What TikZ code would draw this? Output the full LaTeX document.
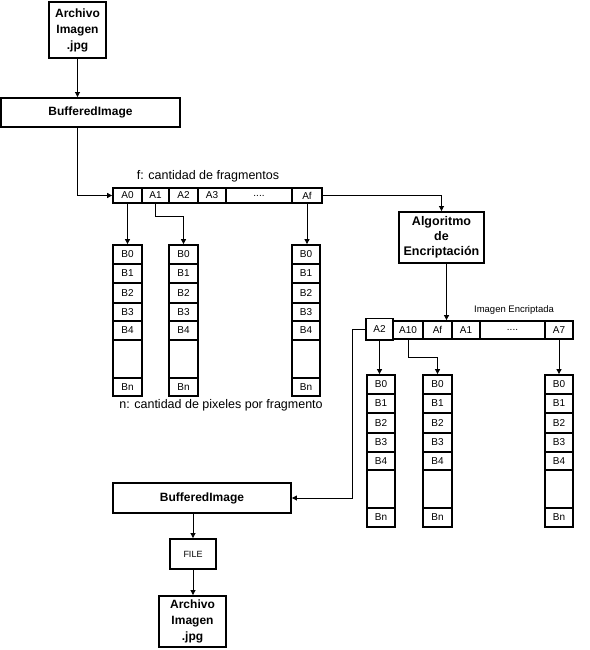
\documentclass[tikz,border=0pt]{standalone}
\usepackage{fontspec}
\setmainfont{Liberation Sans}
\usetikzlibrary{arrows.meta}
\newcommand{\cellbox}[6]{\node[cell, minimum width={(#3)-(#2)}, minimum height={(#5)-(#4)}] (#1) at ({(#2+#3)/2},{(#4+#5)/2}) {#6};}
\newcommand{\bigbox}[6]{\node[box, minimum width={(#3)-(#2)}, minimum height={(#5)-(#4)}] (#1) at ({(#2+#3)/2},{(#4+#5)/2}) {#6};}
\begin{document}
\begin{tikzpicture}[x=1pt,y=-1pt,
  box/.style={draw, line width=1.9pt, inner sep=0pt, align=center, font=\bfseries\fontsize{12}{16}\selectfont},
  cell/.style={draw, line width=1.8pt, inner sep=0pt, font=\fontsize{10}{11}\selectfont},
  conn/.style={line width=0.9pt, -{Triangle[length=5pt,width=5pt]}},
  lbl/.style={inner sep=0pt, font=\fontsize{12.5}{14}\selectfont}]
\useasboundingbox (0,0) rectangle (589,650);

% top part
\bigbox{arch1}{49}{106}{2}{58}{Archivo\\Imagen\\.jpg}
\bigbox{buf1}{1}{180}{98}{127}{BufferedImage}

\node[lbl] (flbl) at (208,176) {f: cantidad de fragmentos};

% array 1
\cellbox{a0}{113}{142}{188}{203}{A0}
\cellbox{a1}{142}{169}{188}{203}{A1}
\cellbox{a2}{169}{198}{188}{203}{A2}
\cellbox{a3}{198}{226}{188}{203}{A3}
\cellbox{adots}{226}{292}{188}{203}{....}
\cellbox{af}{292}{322}{188}{203}{Af}

% columns under array 1
\foreach \c/\xa/\xb in {p/113/142, q/169/198, r/292/320}{
  \foreach \ya/\yb/\t [count=\i] in {245/264/B0, 264/283/B1, 283/303/B2, 303/321/B3, 321/340/B4, 340/378/{}, 378/396/Bn}{
    \cellbox{\c-\i}{\xa}{\xb}{\ya}{\yb}{\t}
  }
}
\node[lbl] (nlbl) at (221,405) {n: cantidad de pixeles por fragmento};

% algorithm
\node[box, minimum width=85pt, minimum height=51pt, font=\bfseries\fontsize{12.5}{15}\selectfont] (alg) at (441.5,237.5) {Algoritmo\\de\\Encriptación};

\node[inner sep=0pt, font=\fontsize{9.5}{11}\selectfont] (elbl) at (514,310) {Imagen Encriptada};

% array 2
\cellbox{ea10}{393}{423}{321}{339}{A10}
\cellbox{eaf}{423}{452}{321}{339}{Af}
\cellbox{ea1}{452}{480}{321}{339}{A1}
\cellbox{edots}{480}{545}{321}{339}{....}
\cellbox{ea7}{545}{573}{321}{339}{A7}
\cellbox{ea2}{366}{393}{318.5}{340}{A2}

% columns under array 2
\foreach \c/\xa/\xb in {s/367/395, t/423/452, u/545/573}{
  \foreach \ya/\yb/\t [count=\i] in {375/394/B0, 394/413/B1, 413/433/B2, 433/452/B3, 452/470/B4, 470/508/{}, 508/527/Bn}{
    \cellbox{\c-\i}{\xa}{\xb}{\ya}{\yb}{\t}
  }
}

% bottom part
\bigbox{buf2}{113}{291}{483}{513}{BufferedImage}
\node[cell, line width=1.9pt, minimum width=46pt, minimum height=30pt, font=\fontsize{9}{10}\selectfont] (file) at (193,554) {FILE};
\bigbox{arch2}{159}{226}{596}{647}{Archivo\\Imagen\\.jpg}

% connectors
\draw[conn] (arch1.south) -- (arch1.south |- buf1.north);
\draw[conn] (arch1.south |- buf1.south) |- (a0.west);
\draw[conn] (a0.south) -- (a0.south |- p-1.north);
\draw[conn] (a1.south) -- ++(0,13) -| (q-1.north);
\draw[conn] (af.south) -- (af.south |- r-1.north);
\draw[conn] (af.east) -| (alg.north);
\draw[conn] ([xshift=5pt]alg.south) -- ([xshift=5pt]alg.south |- eaf.north);
\draw[conn] (ea2.west) -- ++(-13,0) |- (buf2.east);
\draw[conn] (ea2.south) -- (ea2.south |- s-1.north);
\draw[conn] (ea10.south) -- ++(0,18) -| (t-1.north);
\draw[conn] (ea7.south) -- (ea7.south |- u-1.north);
\draw[conn] (file.north |- buf2.south) -- (file.north);
\draw[conn] (file.south) -- (file.south |- arch2.north);
\end{tikzpicture}
\end{document}
